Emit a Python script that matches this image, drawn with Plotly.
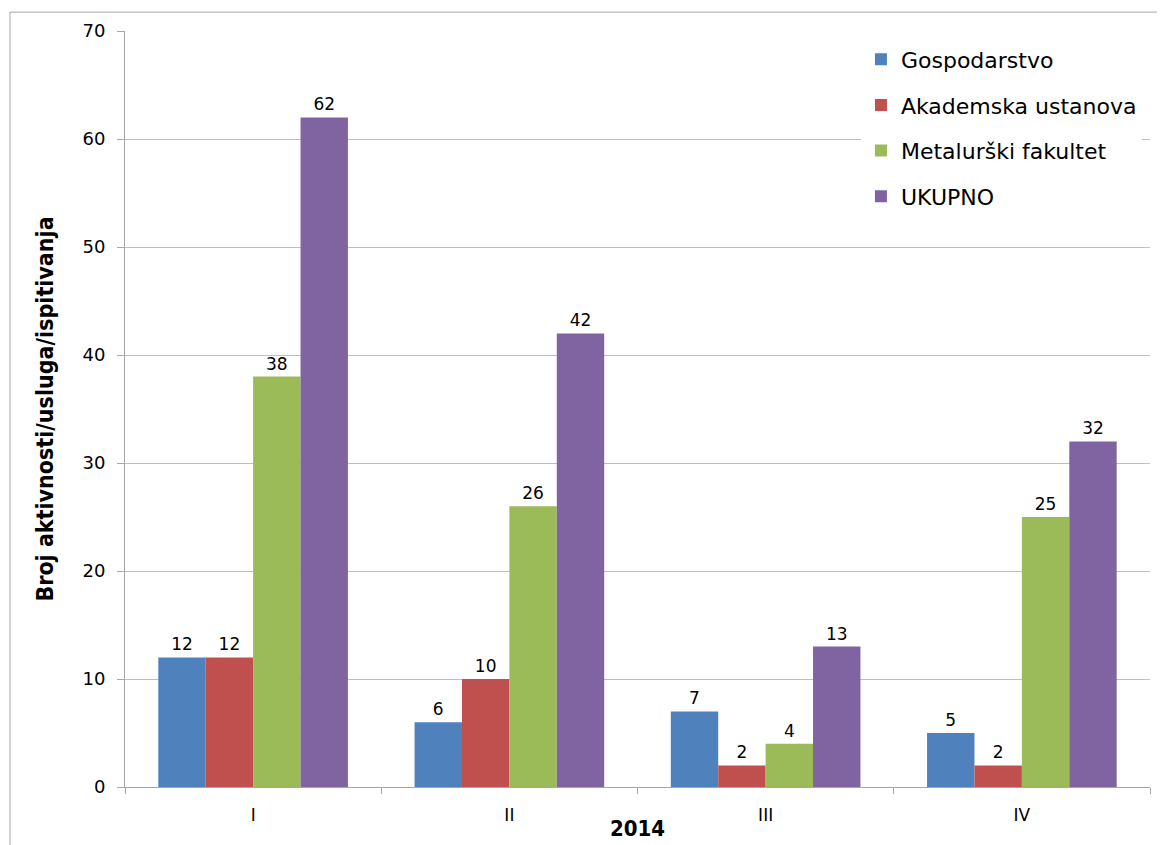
import plotly.graph_objects as go

categories = ["I", "II", "III", "IV"]
series_names = ["Gospodarstvo", "Akademska ustanova", "Metalurški fakultet", "UKUPNO"]
gospodarstvo = [12, 6, 7, 5]
akademska = [12, 10, 2, 2]
metalurski = [38, 26, 4, 25]
ukupno = [62, 42, 13, 32]
colors = ["#4F81BD", "#C0504D", "#9BBB59", "#8064A2"]
y_ticks = [0, 10, 20, 30, 40, 50, 60, 70]

fig = go.Figure()
for i, (name, vals) in enumerate(zip(series_names, [gospodarstvo, akademska, metalurski, ukupno])):
    fig.add_trace(go.Bar(
        x=categories, y=vals, name=name,
        marker=dict(color=colors[i], line=dict(width=0)),
        text=[str(v) for v in vals], textposition="outside",
        textfont=dict(family="DejaVu Sans", size=17, color="#000000"),
        cliponaxis=False, legendgroup=f"g{i}",
    ))

fig.update_layout(
    barmode="group", bargap=0.26, bargroupgap=0,
    width=1157, height=837,
    margin=dict(l=117, r=15, t=20, b=58),
    plot_bgcolor="white", paper_bgcolor="white",
    font=dict(family="DejaVu Sans", color="#000000"),
    showlegend=True,
    legend=dict(
        x=0.718, y=0.99, xanchor="left", yanchor="top",
        bgcolor="white", borderwidth=0,
        font=dict(family="DejaVu Sans", size=22, color="#000000"),
        tracegroupgap=14, traceorder="grouped",
    ),
    xaxis=dict(
        type="category", showgrid=False, showline=True, linecolor="#A6A6A6", linewidth=1,
        ticks="outside", tickson="boundaries", ticklen=6, tickcolor="#A6A6A6",
        tickfont=dict(family="DejaVu Sans", size=17, color="#000000"),
        zeroline=False, ticklabelstandoff=13,
    ),
    yaxis=dict(
        range=[0, 70], tickvals=y_ticks, showgrid=True, gridcolor="#BFBFBF", gridwidth=1,
        showline=True, linecolor="#A6A6A6", linewidth=1,
        ticks="outside", ticklen=7, tickcolor="#A6A6A6",
        tickfont=dict(family="DejaVu Sans", size=18, color="#000000"),
        zeroline=False, ticklabelstandoff=8,
        title=dict(text="<b>Broj aktivnosti/usluga/ispitivanja</b>",
                   font=dict(family="Liberation Sans Narrow, DejaVu Sans Condensed, Arial Narrow", size=23, color="#000000"),
                   standoff=22),
    ),
    annotations=[dict(
        text="<b>2014</b>", xref="paper", yref="paper", x=0.5, y=-0.055,
        xanchor="center", yanchor="middle", showarrow=False,
        font=dict(family="Liberation Sans Narrow, DejaVu Sans Condensed, Arial Narrow", size=22, color="#000000"),
    )],
    shapes=[dict(
        type="rect", xref="paper", yref="paper",
        x0=-0.1122, x1=1.0107, y0=-0.2, y1=1.025,
        line=dict(color="#A6A6A6", width=1), fillcolor="rgba(0,0,0,0)", layer="below",
    )],
)

fig.write_html("out.html")
